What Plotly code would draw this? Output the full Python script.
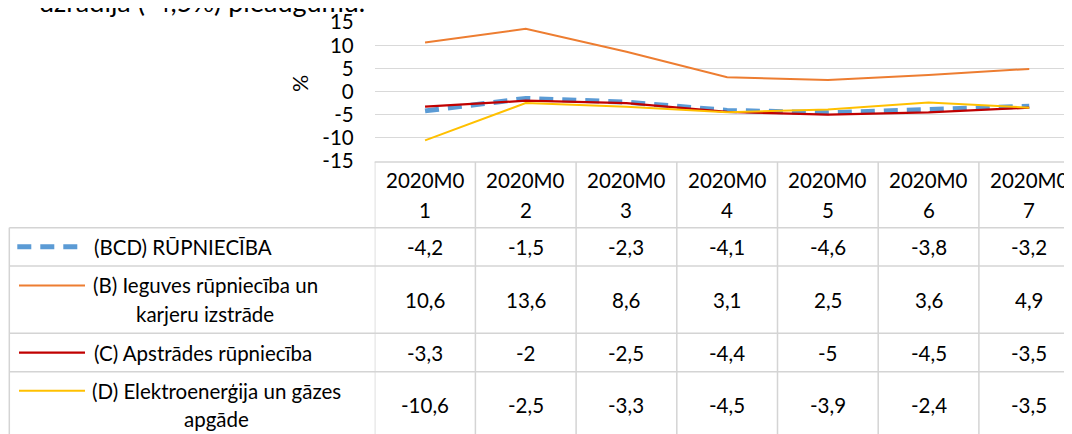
import plotly.graph_objects as go

# ---------------- data ----------------
categories = ["2020M01", "2020M02", "2020M03", "2020M04", "2020M05", "2020M06", "2020M07"]
series_names = [
    "(BCD) RŪPNIECĪBA",
    "(B) Ieguves rūpniecība un karjeru izstrāde",
    "(C) Apstrādes rūpniecība",
    "(D) Elektroenerģija un gāzes apgāde",
]
# wrapped label lines as shown in the table
label_lines = [
    ["(BCD) RŪPNIECĪBA"],
    ["(B) Ieguves rūpniecība un", "karjeru izstrāde"],
    ["(C) Apstrādes rūpniecība"],
    ["(D) Elektroenerģija un gāzes", "apgāde"],
]
bcd = [-4.2, -1.5, -2.3, -4.1, -4.6, -3.8, -3.2]
b_ieguves = [10.6, 13.6, 8.6, 3.1, 2.5, 3.6, 4.9]
c_apstrades = [-3.3, -2, -2.5, -4.4, -5, -4.5, -3.5]
d_elektro = [-10.6, -2.5, -3.3, -4.5, -3.9, -2.4, -3.5]
y_ticks = [15, 10, 5, 0, -5, -10, -15]
heading_text = "uzrādīja (-4,5%) pieaugumu."
axis_title = "%"

series_values = [bcd, b_ieguves, c_apstrades, d_elektro]

# ---------------- styles / layout ----------------
W, H = 1072, 434
OFF = 8  # page body margin
FONT = "Lato"
FS = 20.5
colors = ["#5B9BD5", "#ED7D31", "#C00000", "#FFC000"]
widths = [5, 2, 2.25, 2]
dashes = ["14px,9px", "solid", "solid", "solid"]
grid_col = "#D9D9D9"
tbl_col = "#D4D4D4"

plot_left = 374.7
plot_top = 22.3
plot_bottom = 160.7
col_w = 100.7
table_left = 9.3
table_top = 162.0
row_lines = [227.7, 266.0, 333.3, 371.7, 438.5]
header_line_y = [180.0, 209.5]
label_text_left = 92.0
label_centers = [None, 205.0, None, 216.5]
line_gap = 28.5


def px(xp):
    return (xp - OFF) / W


def py(yp):
    return (H - (yp - OFF)) / H


def fmt(v):
    return f"{v:g}".replace(".", ",")


fig = go.Figure()
for name, vals, c, w, d in zip(series_names, series_values, colors, widths, dashes):
    fig.add_trace(go.Scatter(
        x=categories, y=vals, mode="lines", name=name,
        line=dict(color=c, width=w, dash=d), showlegend=False,
        hoverinfo="skip",
    ))

shapes = []
annotations = []
txt_font = dict(family=FONT, size=FS, color="#000000")

# table horizontal lines
shapes.append(dict(type="line", xref="paper", yref="paper",
                   x0=px(plot_left), x1=1, y0=py(table_top), y1=py(table_top),
                   line=dict(color=tbl_col, width=1.5)))
for yl in row_lines[:-1]:
    shapes.append(dict(type="line", xref="paper", yref="paper",
                       x0=px(table_left), x1=1, y0=py(yl), y1=py(yl),
                       line=dict(color=tbl_col, width=1.5)))
# left border
shapes.append(dict(type="line", xref="paper", yref="paper",
                   x0=px(table_left), x1=px(table_left),
                   y0=py(row_lines[0]), y1=py(H + 20),
                   line=dict(color=tbl_col, width=1.5)))
# column boundaries (in category units)
for i in range(len(categories) + 1):
    shapes.append(dict(type="line", xref="x", yref="paper",
                       x0=i - 0.5, x1=i - 0.5, y0=py(table_top), y1=py(H + 20),
                       line=dict(color=tbl_col, width=1.5)))

# header texts
for i, cat in enumerate(categories):
    parts = [cat[:-1], cat[-1]]
    for part, yl in zip(parts, header_line_y):
        annotations.append(dict(xref="x", yref="paper", x=i, y=py(yl),
                                text=part, showarrow=False,
                                xanchor="center", yanchor="middle",
                                font=txt_font))

# rows
for r, (lines, vals) in enumerate(zip(label_lines, series_values)):
    y_top, y_bot = row_lines[r], row_lines[r + 1]
    yc = (y_top + y_bot) / 2
    n = len(lines)
    first_y = yc - (n - 1) * line_gap / 2
    if r == 0:
        sx0, sx1 = 17.3, 81.0
    else:
        sx0, sx1 = 19.0, 85.0
    shapes.append(dict(type="line", xref="paper", yref="paper",
                       x0=px(sx0), x1=px(sx1), y0=py(first_y), y1=py(first_y),
                       line=dict(color=colors[r], width=widths[r],
                                 dash=dashes[r])))
    for k, t in enumerate(lines):
        yl = first_y + k * line_gap
        if n == 1:
            annotations.append(dict(xref="paper", yref="paper", x=px(label_text_left),
                                    y=py(yl), text=t, showarrow=False,
                                    xanchor="left", yanchor="middle", font=txt_font))
        else:
            annotations.append(dict(xref="paper", yref="paper", x=px(label_centers[r]),
                                    y=py(yl), text=t, showarrow=False,
                                    xanchor="center", yanchor="middle", font=txt_font))
    for i, v in enumerate(vals):
        annotations.append(dict(xref="x", yref="paper", x=i, y=py(yc),
                                text=fmt(v), showarrow=False,
                                xanchor="center", yanchor="middle", font=txt_font))

# y axis title
annotations.append(dict(xref="paper", yref="paper", x=px(300), y=py(84),
                        text=axis_title, textangle=-90, showarrow=False,
                        xanchor="center", yanchor="middle",
                        font=dict(family=FONT, size=FS + 1, color="#000000")))
# cut-off heading text at top
annotations.append(dict(xref="paper", yref="paper", x=px(37), y=py(2),
                        text=heading_text, showarrow=False,
                        xanchor="left", yanchor="middle",
                        font=dict(family=FONT, size=27, color="#000000")))

fig.update_layout(
    width=W, height=H, autosize=False,
    margin=dict(l=0, r=0, t=0, b=0, pad=0),
    paper_bgcolor="white", plot_bgcolor="white",
    font=dict(family=FONT, size=FS, color="#000000"),
    xaxis=dict(type="category", domain=[px(plot_left), 1],
               range=[-0.5, -0.5 + (W + OFF - plot_left) / col_w],
               showticklabels=False, showgrid=False, zeroline=False,
               showline=False, ticks="", automargin=False),
    yaxis=dict(domain=[py(plot_bottom), py(plot_top)], range=[-15, 15],
               tickvals=y_ticks, ticktext=[str(t) for t in y_ticks],
               showgrid=True, gridcolor=grid_col, gridwidth=1.3,
               zeroline=False, showline=False, ticks="",
               ticklabelstandoff=20, automargin=False,
               tickfont=txt_font),
    shapes=shapes,
    annotations=annotations,
)

fig.write_html("out.html")
